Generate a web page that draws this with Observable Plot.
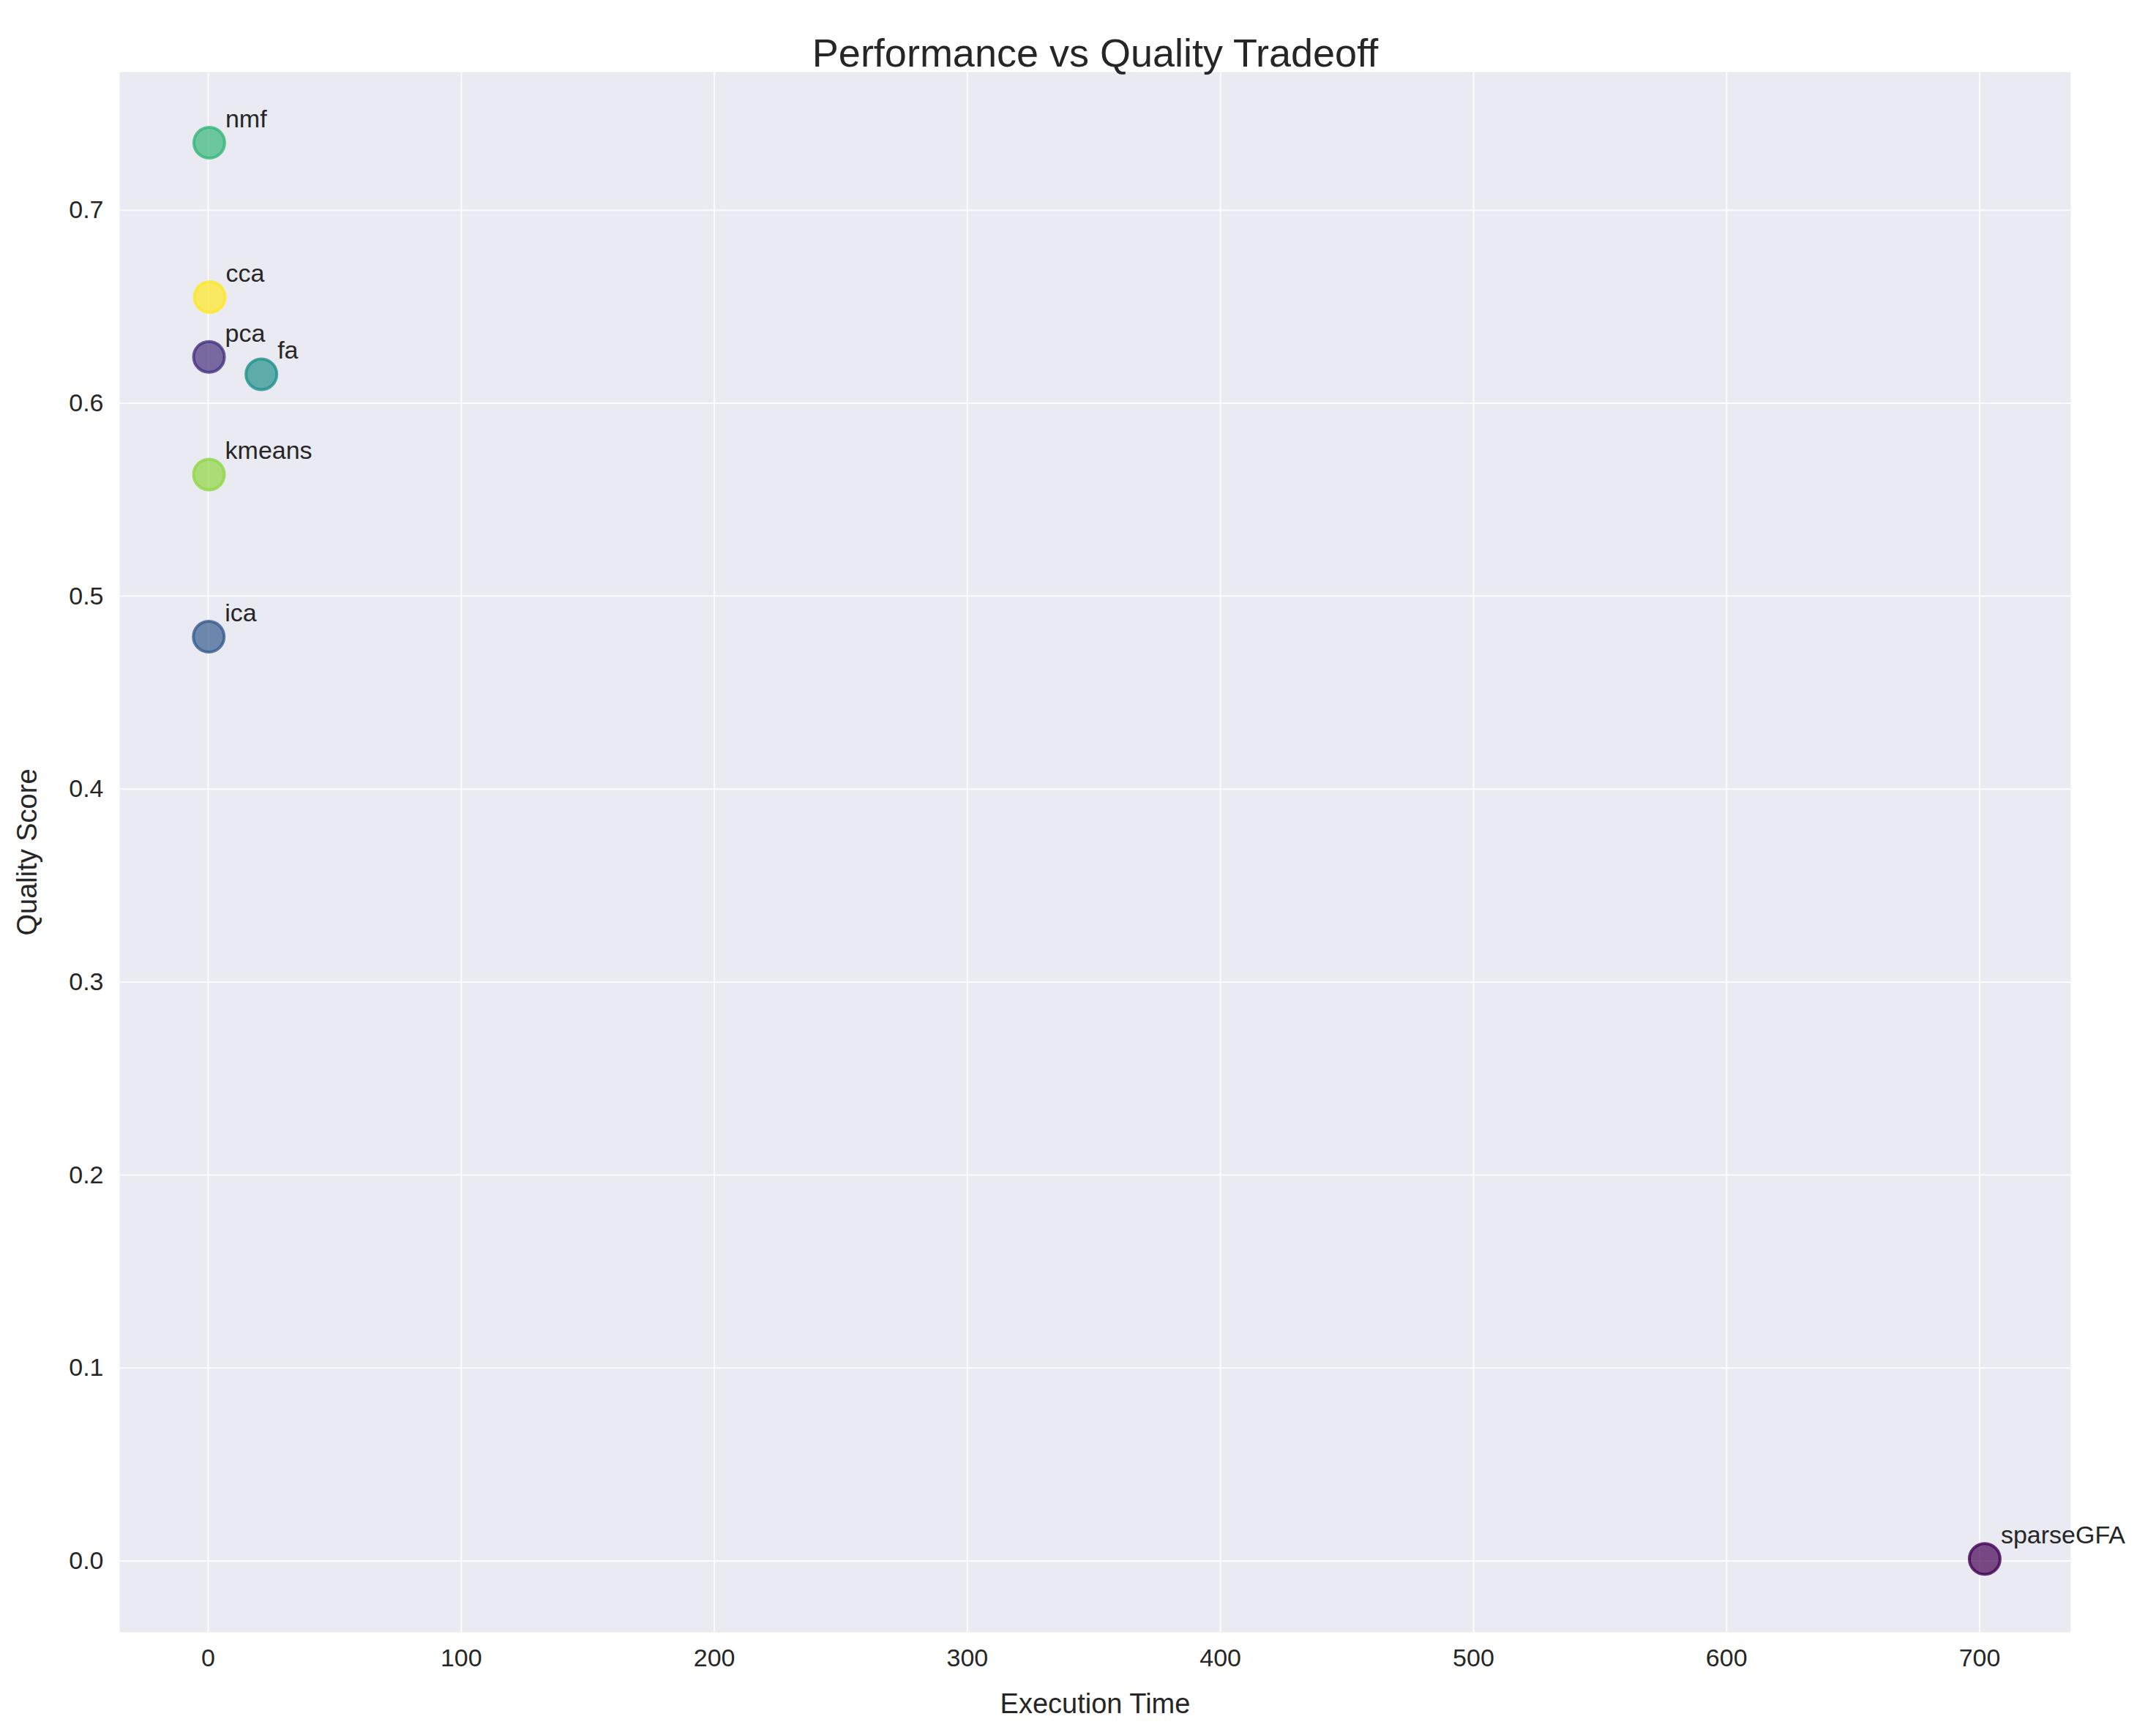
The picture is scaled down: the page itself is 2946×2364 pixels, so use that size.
<!DOCTYPE html>
<html>
<head>
<meta charset="utf-8">
<script src="https://cdn.jsdelivr.net/npm/d3@7"></script>
<script src="https://cdn.jsdelivr.net/npm/@observablehq/plot@0.6"></script>
<style>
  body { margin: 0; background: #fff; }
  #chart svg { font-family: "Liberation Sans", Arial, sans-serif; }
</style>
</head>
<body>
<div id="chart"></div>
<script>
const methods = ["pca", "ica", "fa", "nmf", "kmeans", "cca", "sparseGFA"];
const execTime = [0.3, 0.2, 21, 0.4, 0.3, 0.6, 702];
const quality = [0.624, 0.479, 0.615, 0.735, 0.563, 0.655, 0.001];
const colors = ["#46327e", "#365c8d", "#21918c", "#35b779", "#90d743", "#fde725", "#440154"];
const xTicks = [0, 100, 200, 300, 400, 500, 600, 700];
const yTicks = [0, 0.1, 0.2, 0.3, 0.4, 0.5, 0.6, 0.7];

const data = methods.map((m, i) => ({method: m, x: execTime[i], y: quality[i], c: colors[i]}));

function draw() {
  const plot = Plot.plot({
    width: 2946,
    height: 2364,
    marginLeft: 163,
    marginRight: 117,
    marginTop: 98,
    marginBottom: 134,
    style: {fontSize: "34px", color: "#262626"},
    x: {domain: [-35, 736], ticks: xTicks, tickSize: 0, tickPadding: 22, label: "Execution Time", labelAnchor: "center", labelOffset: 110},
    y: {domain: [-0.037, 0.7716], ticks: yTicks, tickSize: 0, tickPadding: 22, tickFormat: d3.format(".1f"), label: "Quality Score", labelAnchor: "center", labelOffset: 140, labelArrow: "none"},
    marks: [
      Plot.frame({fill: "#eaeaf2", stroke: null}),
      Plot.gridX(xTicks, {stroke: "#ffffff", strokeOpacity: 0.8, strokeWidth: 2}),
      Plot.gridY(yTicks, {stroke: "#ffffff", strokeOpacity: 0.8, strokeWidth: 2}),
      Plot.axisX({ticks: xTicks, tickSize: 0, tickPadding: 22, fontSize: 34, label: "Execution Time", labelAnchor: "center", labelOffset: 110, labelArrow: "none"}),
      Plot.axisY({ticks: yTicks, tickSize: 0, tickPadding: 22, fontSize: 34, tickFormat: d3.format(".1f"), label: "Quality Score", labelAnchor: "center", labelOffset: 140, labelArrow: "none"}),
      Plot.dot(data, {x: "x", y: "y", r: 21, fill: "c", fillOpacity: 0.7, stroke: "c", strokeWidth: 4, strokeOpacity: 0.8}),
      Plot.text(data, {x: "x", y: "y", text: "method", dx: 22, dy: -32, textAnchor: "start", fontSize: 34, fill: "#262626"}),
      Plot.text(["Performance vs Quality Tradeoff"], {frameAnchor: "top", dy: -46, fontSize: 54, fill: "#262626"})
    ]
  });
  plot.querySelectorAll("[aria-label='x-axis label'] text, [aria-label='y-axis label'] text").forEach(t => t.setAttribute("font-size", "38"));
  document.querySelector("#chart").append(plot);
}
draw();
</script>
</body>
</html>
